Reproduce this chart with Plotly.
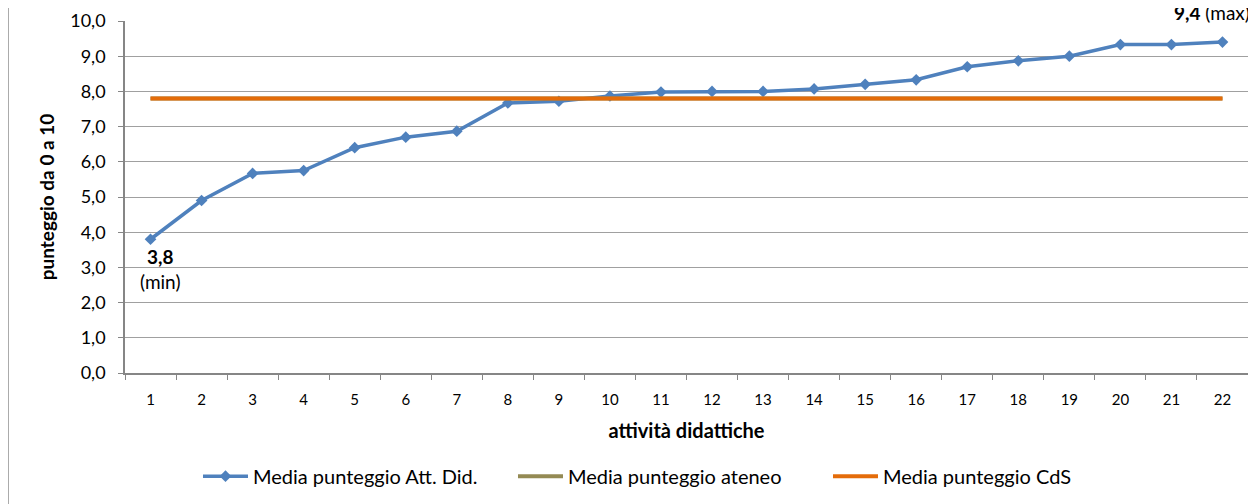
import plotly.graph_objects as go

# attività didattiche (categorie) e punteggi medi
attivita = list(range(1, 23))
media_att_did = [3.8, 4.9, 5.67, 5.75, 6.4, 6.7, 6.87, 7.67, 7.72, 7.87, 7.98,
                 8.0, 8.0, 8.07, 8.2, 8.33, 8.7, 8.87, 9.0, 9.33, 9.33, 9.4]
media_ateneo = [7.8] * 22
media_cds = [7.8] * 22

y_ticks = [0, 1, 2, 3, 4, 5, 6, 7, 8, 9, 10]

FONT = "Lato"
BLUE = "#4F81BD"
OLIVE = "#948A54"
ORANGE = "#E46C0A"
AXIS = "#868686"

fig = go.Figure()

fig.add_trace(go.Scatter(
    x=attivita, y=media_att_did,
    mode="lines+markers",
    name="Media punteggio Att. Did.",
    line=dict(color=BLUE, width=3.5),
    marker=dict(symbol="diamond", size=9, color=BLUE),
))

fig.add_trace(go.Scatter(
    x=attivita, y=media_ateneo,
    mode="lines",
    name="Media punteggio ateneo",
    line=dict(color=OLIVE, width=4),
))

fig.add_trace(go.Scatter(
    x=attivita, y=media_cds,
    mode="lines",
    name="Media punteggio CdS",
    line=dict(color=ORANGE, width=4),
))

# etichette min / max
i_min = media_att_did.index(min(media_att_did))
i_max = media_att_did.index(max(media_att_did))
fig.add_annotation(
    x=attivita[i_min], y=media_att_did[i_min],
    text="<b>%s</b><br>(min)" % f"{media_att_did[i_min]:.1f}".replace(".", ","),
    showarrow=False, xanchor="center", yanchor="top",
    xshift=9, yshift=-4,
    font=dict(family=FONT, size=19, color="black"),
)
fig.add_annotation(
    x=attivita[i_max], y=1.023, yref="paper",
    text="<b>%s</b> (max)" % f"{media_att_did[i_max]:.1f}".replace(".", ","),
    showarrow=False, xanchor="center", yanchor="middle",
    xshift=-10,
    font=dict(family=FONT, size=19, color="black"),
)

# bordo sinistro dell'area del grafico
fig.add_shape(
    type="line", xref="paper", yref="paper",
    x0=-0.1042, x1=-0.1042, y0=-0.45, y1=1.1,
    line=dict(color="#8c8c8c", width=1.5),
)

# la pagina ha 8px di margine: l'area del grafico va spostata di conseguenza
fig.update_layout(
    width=1256, height=504,
    margin=dict(l=117, r=16, t=13, b=139, autoexpand=False),
    paper_bgcolor="white",
    plot_bgcolor="white",
    separators=",.",
    font=dict(family=FONT, size=14, color="black"),
    showlegend=True,
    legend=dict(
        orientation="h",
        x=0.065, xanchor="left",
        y=-0.293, yanchor="middle",
        font=dict(family=FONT, size=20),
        itemwidth=45,
        entrywidth=255,
    ),
    xaxis=dict(
        range=[0.5, 22.5],
        automargin=False,
        tickvals=attivita,
        ticktext=[str(a) for a in attivita],
        ticks="outside", ticklen=5, tickcolor="rgba(0,0,0,0)",
        ticklabelstandoff=7,
        minor=dict(tickvals=[a - 0.5 for a in attivita] + [22.5],
                   ticks="outside", ticklen=5, tickcolor=AXIS,
                   showgrid=False),
        showline=True, linecolor=AXIS, linewidth=1.5,
        showgrid=False, zeroline=False,
        tickfont=dict(family=FONT, size=15),
        title=dict(text="<b>attività didattiche</b>",
                   font=dict(family=FONT, size=20), standoff=17),
    ),
    yaxis=dict(
        range=[0, 10],
        automargin=False,
        tickvals=y_ticks,
        tickformat=".1f",
        ticks="outside", ticklen=5, tickcolor=AXIS,
        ticklabelstandoff=9,
        showline=True, linecolor=AXIS, linewidth=1.5,
        showgrid=True, gridcolor="#a0a0a0", gridwidth=1,
        zeroline=False,
        tickfont=dict(family=FONT, size=18),
        title=dict(text="<b>punteggio da 0 a 10</b>",
                   font=dict(family=FONT, size=19), standoff=11),
    ),
)

fig.write_html("out.html")
